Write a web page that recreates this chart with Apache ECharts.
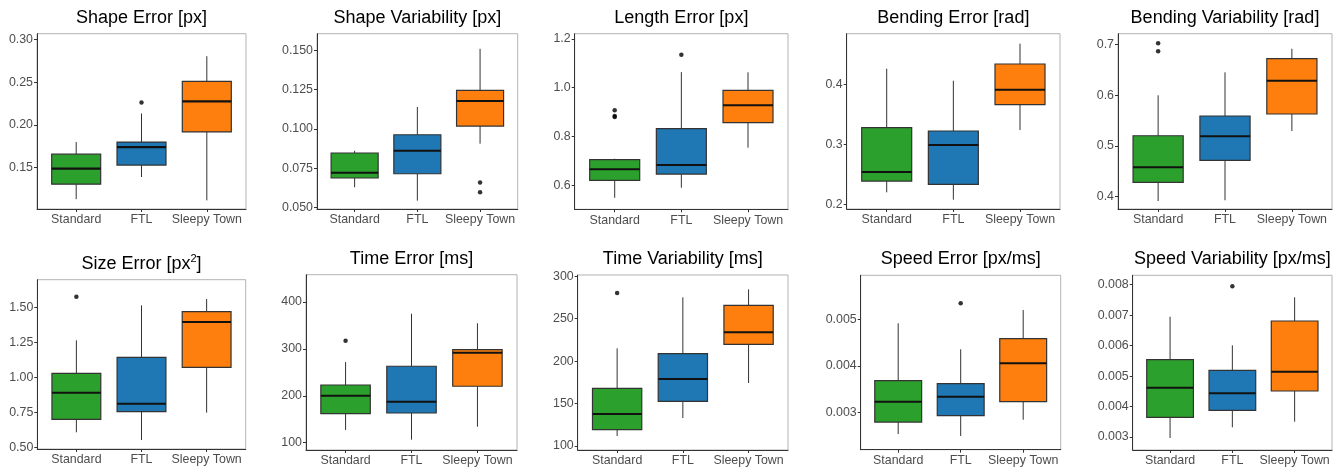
<!DOCTYPE html>
<html>
<head>
<meta charset="utf-8">
<script src="https://cdn.jsdelivr.net/npm/echarts@6/dist/echarts.min.js"></script>
<style>
html,body{margin:0;padding:0;background:#fff;}
#chart{width:1343px;height:468px;}
</style>
</head>
<body>
<div id="chart"></div>
<script>
// ---------------- DATA ----------------
const categories = ['Standard', 'FTL', 'Sleepy Town'];
const groupColors = ['#2ca02c', '#1f77b4', '#ff7f0e'];

// each stats row: [lower whisker, Q1, median, Q3, upper whisker] for Standard, FTL, Sleepy Town
const shapeErrorStats = [[0.113, 0.1306, 0.1488, 0.1658, 0.180], [0.139, 0.153, 0.174, 0.180, 0.2135], [0.1116, 0.1919, 0.2277, 0.2512, 0.2806]];
const shapeErrorOutliers = [[], [0.2263], []];
const shapeErrorTicks = ['0.15', '0.20', '0.25', '0.30'];

const shapeVariabilityStats = [[0.0630, 0.0689, 0.0722, 0.0848, 0.0862], [0.0545, 0.0716, 0.0862, 0.0964, 0.1140], [0.0907, 0.1019, 0.1178, 0.1246, 0.1510]];
const shapeVariabilityOutliers = [[], [], [0.0661, 0.0598]];
const shapeVariabilityTicks = ['0.050', '0.075', '0.100', '0.125', '0.150'];

const lengthErrorStats = [[0.549, 0.6205, 0.6656, 0.705, 0.709], [0.590, 0.646, 0.683, 0.832, 1.064], [0.754, 0.8566, 0.928, 0.989, 1.063]];
const lengthErrorOutliers = [[0.908, 0.884, 0.880], [1.135], []];
const lengthErrorTicks = ['0.6', '0.8', '1.0', '1.2'];

const bendingErrorStats = [[0.220, 0.2388, 0.2538, 0.3277, 0.426], [0.2077, 0.2333, 0.2988, 0.3222, 0.406], [0.3238, 0.366, 0.391, 0.4338, 0.4677]];
const bendingErrorOutliers = [[], [], []];
const bendingErrorTicks = ['0.2', '0.3', '0.4'];

const bendingVariabilityStats = [[0.3915, 0.4283, 0.4579, 0.520, 0.5996], [0.393, 0.4717, 0.5189, 0.5589, 0.6449], [0.5293, 0.5628, 0.6283, 0.6717, 0.6913]];
const bendingVariabilityOutliers = [[0.702, 0.6862], [], []];
const bendingVariabilityTicks = ['0.4', '0.5', '0.6', '0.7'];

const sizeErrorStats = [[0.6074, 0.7006, 0.891, 1.030, 1.2665], [0.5523, 0.755, 0.8123, 1.1447, 1.517], [0.748, 1.073, 1.3975, 1.4713, 1.562]];
const sizeErrorOutliers = [[1.5788], [], []];
const sizeErrorTicks = ['0.50', '0.75', '1.00', '1.25', '1.50'];

const timeErrorStats = [[127, 161.8, 200.2, 223, 272], [106.4, 163.3, 187.4, 263, 375], [134, 220.3, 291.9, 298.3, 354.6]];
const timeErrorOutliers = [[317.5], [], []];
const timeErrorTicks = ['100', '200', '300', '400'];

const timeVariabilityStats = [[111.8, 119.2, 137.7, 168, 215.1], [133, 152.7, 179, 208.8, 275.2], [174.2, 219.8, 234, 265.8, 284.6]];
const timeVariabilityOutliers = [[280.3], [], []];
const timeVariabilityTicks = ['100', '150', '200', '250', '300'];

const speedErrorStats = [[0.002533, 0.002791, 0.003228, 0.003680, 0.004914], [0.00249, 0.002927, 0.003336, 0.003615, 0.004355], [0.00284, 0.003228, 0.004054, 0.004583, 0.0052]];
const speedErrorOutliers = [[], [0.005344], []];
const speedErrorTicks = ['0.003', '0.004', '0.005'];

const speedVariabilityStats = [[0.002967, 0.003647, 0.004619, 0.005538, 0.006949], [0.003318, 0.003876, 0.004435, 0.00519, 0.00601], [0.003502, 0.00451, 0.005144, 0.006808, 0.007587]];
const speedVariabilityOutliers = [[], [0.007947], []];
const speedVariabilityTicks = ['0.003', '0.004', '0.005', '0.006', '0.007', '0.008'];

const panelTitles = ['Shape Error [px]', 'Shape Variability [px]', 'Length Error [px]', 'Bending Error [rad]', 'Bending Variability [rad]',
  'Size Error [px{s|2}]', 'Time Error [ms]', 'Time Variability [ms]', 'Speed Error [px/ms]', 'Speed Variability [px/ms]'];

// ---------------- LAYOUT ----------------
// [left, top, right, bottom] in px, y-axis [min, max]
const panelBoxes = [
  [37, 33.7, 246, 209], [317, 33.7, 517.7, 209], [574.7, 33.7, 788, 209.3], [846.7, 33.7, 1060, 209], [1118, 33.7, 1332, 209],
  [37.3, 279.7, 245.7, 449], [306, 274.7, 517, 450], [577.7, 275, 788, 450], [860.7, 275.3, 1060.7, 449.7], [1132.7, 275.3, 1332, 450]
];
const panelYRange = [
  [0.1015, 0.307], [0.0492, 0.1606], [0.5016, 1.2213], [0.1922, 0.4843], [0.3758, 0.7209],
  [0.4878, 1.7006], [84.4, 458.2], [95.3, 301.5], [0.002196, 0.005946], [0.002573, 0.008309]
];
const panelTitleTop = [9, 9, 9, 9, 9, 253, 250.5, 250.5, 250.5, 250.5];

const panelStats = [shapeErrorStats, shapeVariabilityStats, lengthErrorStats, bendingErrorStats, bendingVariabilityStats,
  sizeErrorStats, timeErrorStats, timeVariabilityStats, speedErrorStats, speedVariabilityStats];
const panelOutliers = [shapeErrorOutliers, shapeVariabilityOutliers, lengthErrorOutliers, bendingErrorOutliers, bendingVariabilityOutliers,
  sizeErrorOutliers, timeErrorOutliers, timeVariabilityOutliers, speedErrorOutliers, speedVariabilityOutliers];
const panelTicks = [shapeErrorTicks, shapeVariabilityTicks, lengthErrorTicks, bendingErrorTicks, bendingVariabilityTicks,
  sizeErrorTicks, timeErrorTicks, timeVariabilityTicks, speedErrorTicks, speedVariabilityTicks];

const FONT = 'Liberation Sans, Arial, Helvetica, sans-serif';
const AXIS_DARK = '#333333';

function renderBox(params, api) {
  const x = api.value(0);
  const lo = api.coord([x, api.value(1)]);
  const q1 = api.coord([x, api.value(2)]);
  const med = api.coord([x, api.value(3)]);
  const q3 = api.coord([x, api.value(4)]);
  const hi = api.coord([x, api.value(5)]);
  const w = api.size([0.75, 0])[0];
  const cx = med[0];
  const color = groupColors[params.dataIndex];
  return {
    type: 'group',
    children: [
      { type: 'line', shape: { x1: cx, y1: hi[1], x2: cx, y2: q3[1] }, style: { stroke: AXIS_DARK, lineWidth: 1 } },
      { type: 'line', shape: { x1: cx, y1: q1[1], x2: cx, y2: lo[1] }, style: { stroke: AXIS_DARK, lineWidth: 1 } },
      { type: 'rect', shape: { x: cx - w / 2, y: q3[1], width: w, height: q1[1] - q3[1] }, style: { fill: color, stroke: AXIS_DARK, lineWidth: 1.2 } },
      { type: 'line', shape: { x1: cx - w / 2, y1: med[1], x2: cx + w / 2, y2: med[1] }, style: { stroke: '#111111', lineWidth: 2.1 } }
    ]
  };
}

const grids = [], xAxes = [], yAxes = [], series = [], titles = [];
for (let i = 0; i < 10; i++) {
  const [l, t, r, b] = panelBoxes[i];
  grids.push({ left: l, top: t, width: r - l, height: b - t, show: true, borderColor: '#b3b3b3', borderWidth: 1, backgroundColor: 'transparent', containLabel: false });
  xAxes.push({
    type: 'value', gridIndex: i, min: 0.4, max: 3.6,
    axisLine: { show: true, onZero: false, lineStyle: { color: AXIS_DARK, width: 1 } },
    axisTick: { show: true, length: 3, customValues: [1, 2, 3], lineStyle: { color: AXIS_DARK } },
    axisLabel: { show: true, customValues: [1, 2, 3], formatter: v => categories[Math.round(v) - 1], color: '#4d4d4d', fontSize: 12.4, fontFamily: FONT, margin: 5 },
    splitLine: { show: false }
  });
  const ticks = panelTicks[i];
  const tickVals = ticks.map(Number);
  yAxes.push({
    type: 'value', gridIndex: i, min: panelYRange[i][0], max: panelYRange[i][1],
    axisLine: { show: true, onZero: false, lineStyle: { color: AXIS_DARK, width: 1 } },
    axisTick: { show: true, length: 3, customValues: tickVals, lineStyle: { color: AXIS_DARK } },
    axisLabel: {
      show: true, customValues: tickVals, color: '#4d4d4d', fontSize: 12.4, fontFamily: FONT, margin: 4,
      formatter: v => { let best = ticks[0], d = Infinity; ticks.forEach(tk => { const dd = Math.abs(Number(tk) - v); if (dd < d) { d = dd; best = tk; } }); return best; }
    },
    splitLine: { show: false }
  });
  series.push({
    type: 'custom', xAxisIndex: i, yAxisIndex: i,
    data: panelStats[i].map((s, k) => [k + 1, ...s]),
    encode: { x: 0, y: [1, 2, 3, 4, 5] },
    renderItem: renderBox,
    silent: true
  });
  const pts = [];
  panelOutliers[i].forEach((arr, k) => arr.forEach(v => pts.push([k + 1, v])));
  series.push({
    type: 'scatter', xAxisIndex: i, yAxisIndex: i, data: pts,
    symbol: 'circle', symbolSize: 4.5, itemStyle: { color: '#000000' }, silent: true
  });
  const isRich = panelTitles[i].indexOf('{s|') >= 0;
  titles.push({
    text: isRich ? '{a|' + panelTitles[i].replace('{s|2}', '}{s|2}{a|') + '}' : panelTitles[i],
    left: (l + r) / 2, top: panelTitleTop[i], textAlign: 'center', padding: 0,
    textStyle: {
      fontSize: 18, fontWeight: 'normal', color: '#000000', fontFamily: FONT,
      rich: {
        a: { fontSize: 18, fontFamily: FONT, color: '#000000', lineHeight: 22 },
        s: { fontSize: 11, fontFamily: FONT, color: '#000000', verticalAlign: 'top', lineHeight: 22 }
      }
    }
  });
}

const chart = echarts.init(document.getElementById('chart'), null, { renderer: 'canvas' });
chart.setOption({
  animation: false,
  backgroundColor: '#ffffff',
  title: titles,
  grid: grids,
  xAxis: xAxes,
  yAxis: yAxes,
  series: series
});
</script>
</body>
</html>
